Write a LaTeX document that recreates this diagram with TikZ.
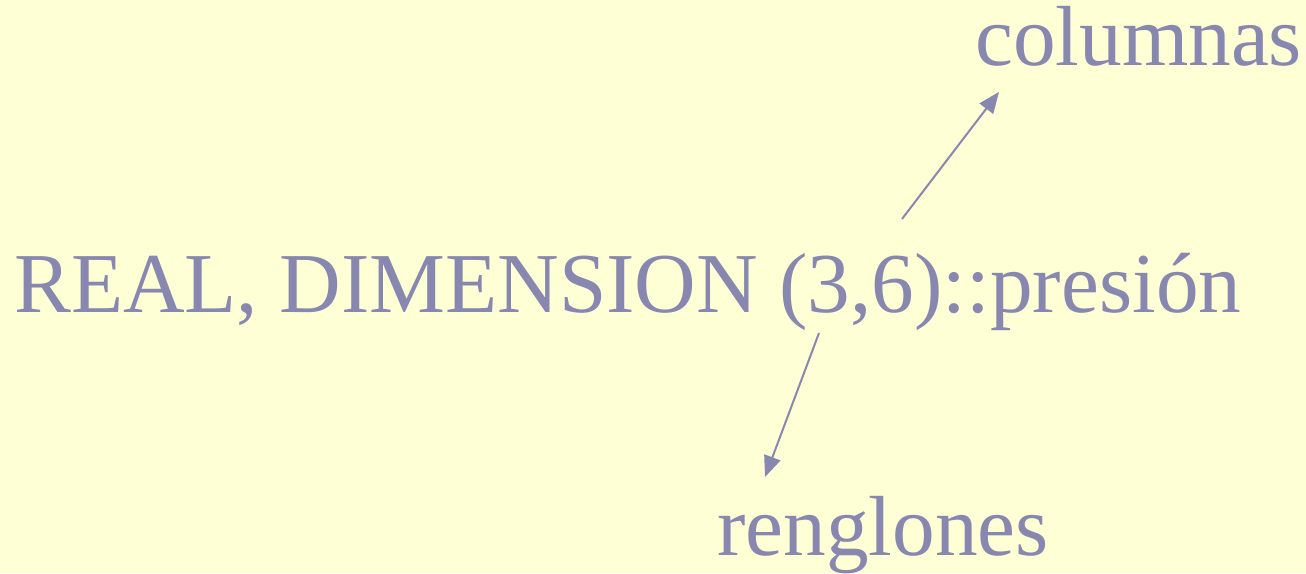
\documentclass[tikz,border=0pt]{standalone}
\usepackage{fontspec}
\setmainfont{Liberation Serif}
\usetikzlibrary{arrows.meta, positioning}
\definecolor{slidebg}{HTML}{FFFFD6}
\definecolor{slideink}{HTML}{8787AF}
\tikzset{
    slidetext/.style={anchor=base west, inner sep=0pt, text=slideink, font=\fontsize{85.3}{100}\selectfont},
    arrow/.style={draw=slideink, line width=2pt, -{Triangle[length=21pt,width=17pt]}}
}

\begin{document}
\begin{tikzpicture}[x=1pt, y=-1pt]
        \fill [slidebg] (0,0) rectangle (1306,573);
        \useasboundingbox (0,0) rectangle (1306,573);

        \node (decl) [slidetext] at (14,312) {REAL, DIMENSION (3,6)::presión};
        \node (cols) [slidetext] at (975,65) {columnas};
        \node (rows) [slidetext] at (717,555) {renglones};

        \coordinate (colstail) at (902,219);
        \coordinate (colshead) at (999,92);
        \coordinate (rowstail) at (819,333);
        \coordinate (rowshead) at (765,477);

        \draw [arrow] (colstail) -- (colshead);
        \draw [arrow] (rowstail) -- (rowshead);
    \end{tikzpicture}
\end{document}
